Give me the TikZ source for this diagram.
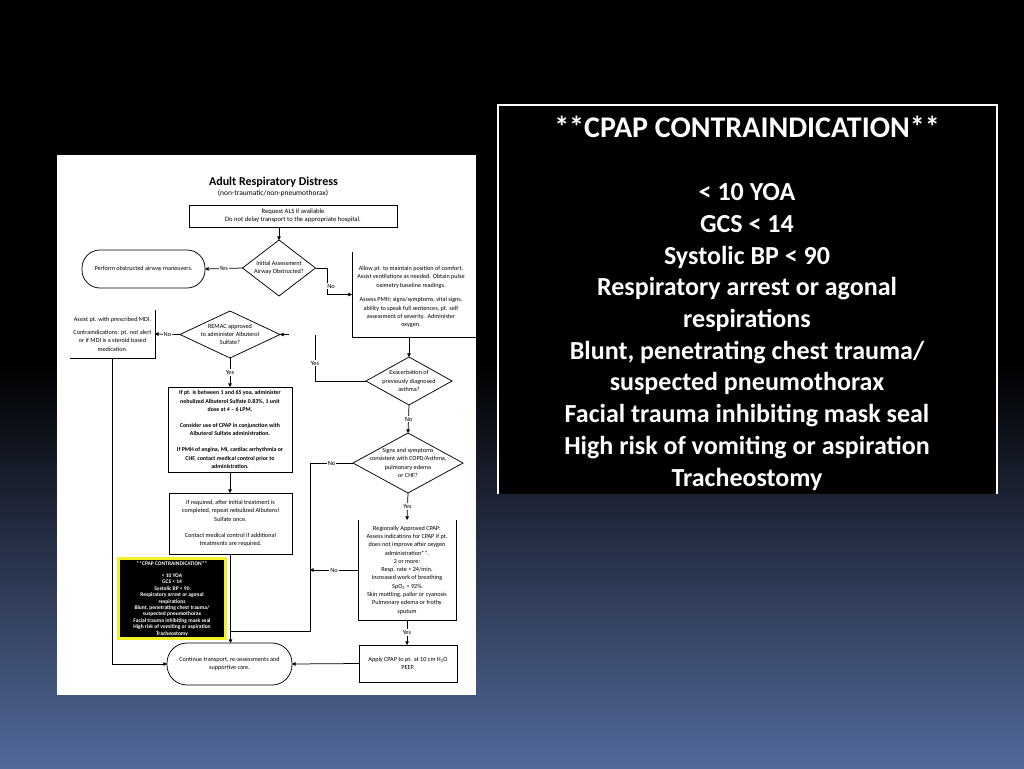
\documentclass[tikz,border=0pt]{standalone}
\usepackage{fontspec}
\setmainfont{Carlito}
\usetikzlibrary{arrows.meta,shapes.geometric,calc}
\definecolor{bgblue}{HTML}{52699A}
\definecolor{bgmid}{HTML}{1D2740}
\definecolor{ylw}{HTML}{F2F22A}
\begin{document}
\begin{tikzpicture}[x=1pt,y=-1pt,
 every node/.style={inner sep=0pt, outer sep=0pt},
 ft/.style={font=\fontsize{6.2}{8.3}\selectfont, align=center},
 fb/.style={font=\bfseries\fontsize{5.9}{8.2}\selectfont, align=center},
 ln/.style={line width=0.75pt, draw=black},
 arr/.style={ln, -{Triangle[length=3.6pt,width=3.6pt]}},
 boxd/.style={draw=black, line width=0.75pt, rectangle},
 frame/.style={rectangle},
 dia/.style={diamond, draw=black, line width=0.75pt},
 stad/.style={draw=black, line width=0.75pt, rounded corners=18pt},
 lbl/.style={fill=white, font=\fontsize{6.4}{7}\selectfont, inner sep=1pt}
]
\useasboundingbox (0,0) rectangle (1024,768);
\fill[black] (0,0) rectangle (1024,768);
\shade[top color=black, middle color=bgmid, bottom color=bgblue] (0,360) rectangle (1024,768);

% page
\fill[white] (57,155) rectangle (476,695);

\node[font=\bfseries\fontsize{12}{14}\selectfont] (title) at (273.5,182) {Adult Respiratory Distress};
\node[font=\fontsize{7.5}{9}\selectfont] (sub) at (273,193.5) {(non-traumatic/non-pneumothorax)};
\node[boxd, minimum width=208pt, minimum height=22pt, font=\fontsize{6.6}{8}\selectfont, align=center] (req) at (293,216) {Request ALS if available\\Do not delay transport to the appropriate hospital.};

\node[dia, minimum width=73pt, minimum height=56pt, label={[ft]center:{Initial Assessment\\Airway Obstructed?}}] (d1) at (279,268) {};
\draw[arr] (req.south -| d1.north) -- (d1.north);

\node[stad, minimum width=123pt, minimum height=38pt, ft] (perf) at (143.5,269) {Perform obstructed airway maneuvers.};
\draw[arr] (d1.west) -- node[lbl] (yes1) {Yes} (perf.east);

\node[frame, minimum width=124pt, minimum height=85pt] (allow) at (414,294.5) {};
\node[ft] (allowt) at (411,297) {Allow pt. to maintain position of comfort.\\Assist ventilations as needed. Obtain pulse\\oximetry baseline readings.\\[6.5pt]Assess PMH; signs/symptoms, vital signs,\\ability to speak full sentences, pt. self\\assessment of severity.\ \ Administer\\oxygen.};
\draw[ln] (allow.north west) -- (allow.south west) -- (allow.south east);
\coordinate (c1) at (327,268);
\coordinate (c2) at (327,294.5);
\draw[arr] (d1.east) -- (c1) -- (c2) -- (allow.west);
\node[lbl] (no1) at (331,286) {No};

\node[dia, minimum width=86pt, minimum height=48pt, label={[ft]center:{Exacerbation of\\previously diagnosed\\asthma?}}] (d2) at (409,381) {};
\draw[arr] (d2.north |- allow.south) -- (d2.north);
\coordinate (c3) at (315,381);
\coordinate (c4) at (315,335);
\draw[ln] (d2.west) -- (c3) -- (c4);
\node[lbl] (yes2) at (315,363) {Yes};

\node[dia, minimum width=100pt, minimum height=47pt, label={[ft]center:{REMAC approved\\to administer Albuterol\\Sulfate?}}] (d3) at (230,334.5) {};
\coordinate (stub) at (289,334.5);
\draw[arr] (stub) -- (d3.east);

\node[frame, minimum width=85pt, minimum height=48pt, ft] (mdi) at (112.5,334) {Assist pt. with prescribed MDI.\\[5pt]Contraindications: pt. not alert\\or if MDI is a steroid based\\medication.};
\draw[ln] (mdi.north east) -- (mdi.south east) -- (mdi.south west);
\draw[arr] (d3.west) -- node[lbl] (no2) {No} (mdi.east);

\node[boxd, minimum width=124pt, minimum height=85pt, fb] (alb) at (230,429.5) {If pt. is between 1 and 65 yoa, administer\\nebulized Albuterol Sulfate 0.83\%, 1 unit\\dose at 4 -- 6 LPM.\\[8pt]Consider use of CPAP in conjunction with\\Albuterol Sulfate administration.\\[8pt]If PMH of angina, MI, cardiac arrhythmia or\\CHF, contact medical control prior to\\administration.};
\draw[arr] (d3.south) -- node[lbl] (yes3) {Yes} (alb.north);

\node[boxd, minimum width=123pt, minimum height=61pt, ft] (rep) at (230.5,523.5) {If required, after initial treatment is\\completed, repeat nebulized Albuterol\\Sulfate once.\\[8pt]Contact medical control if additional\\treatments are required.};
\draw[arr] (alb.south) -- (alb.south |- rep.north);

\node[stad, minimum width=125pt, minimum height=42pt, rounded corners=20pt, ft] (cont) at (229.5,664) {Continue transport, re-assessments and\\supportive care.};
\draw[arr] (rep.south) -- (rep.south |- cont.north);
\draw[arr] (mdi.south) |- (cont.west);

\node[draw=ylw, fill=black, line width=3pt, minimum width=107pt, minimum height=80pt] (ci) at (172,598.5) {};
\node[text=white, font=\bfseries\fontsize{5.5}{6.4}\selectfont, align=center] (cit) at (172,598.5) {**CPAP CONTRAINDICATION**\\[6pt]< 10 YOA\\GCS < 14\\Systolic BP < 90\\Respiratory arrest or agonal\\respirations\\Blunt, penetrating chest trauma/\\suspected pneumothorax\\Facial trauma inhibiting mask seal\\High risk of vomiting or aspiration\\Tracheostomy};

\node[dia, minimum width=110pt, minimum height=60pt, label={[ft]center:{Signs and symptoms\\consistent with COPD/Asthma,\\pulmonary edema\\or CHF?}}] (d4) at (408,463) {};
\draw[arr] (d2.south) -- node[lbl] (no3) {No} (d4.north);
\coordinate (c5) at (310,463);
\coordinate (c6) at (310,631);
\draw[ln] (d4.west) -- node[lbl] (no4) {No} (c5) -- (c6) -- (c6 -| rep.south);

\node[frame, minimum width=98pt, minimum height=100pt, ft] (cpap) at (407,570) {Regionally Approved CPAP:\\Assess indications for CPAP if pt.\\does not improve after oxygen\\administration**.\\2 or more:\\Resp. rate > 24/min.\\Increased work of breathing\\SpO\textsubscript{2} < 92\%\\Skin mottling, pallor or cyanosis\\Pulmonary edema or frothy\\sputum};
\draw[ln] (cpap.north west) -- (cpap.south west) -- (cpap.south east) -- (cpap.north east);
\draw[arr] (d4.south) -- node[lbl] (yes4) {Yes} (cpap.north);
\draw[arr] (cpap.west) -- node[lbl] (no5) {No} (cpap.west -| c5);

\node[boxd, minimum width=98pt, minimum height=37pt, ft] (apply) at (408,663.5) {Apply CPAP to pt. at 10 cm H\textsubscript{2}O\\PEEP.};
\draw[arr] (cpap.south) -- node[lbl] (yes5) {Yes} (cpap.south |- apply.north);
\draw[arr] (apply.west) -- (cont.east);

% right panel
\fill[black] (498,105) rectangle (997,494);
\draw[white, line width=2pt] (498,494) -- (498,105) -- (997,105) -- (997,494);
\node[text=white, font=\bfseries\fontsize{26}{31.7}\selectfont, align=center] (bigt) at (747,303) {{\fontsize{30}{31.7}\selectfont **CPAP CONTRAINDICATION**}\\[31.7pt]< 10 YOA\\GCS < 14\\Systolic BP < 90\\Respiratory arrest or agonal\\respirations\\Blunt, penetrating chest trauma/\\suspected pneumothorax\\Facial trauma inhibiting mask seal\\High risk of vomiting or aspiration\\Tracheostomy};
\end{tikzpicture}
\end{document}
